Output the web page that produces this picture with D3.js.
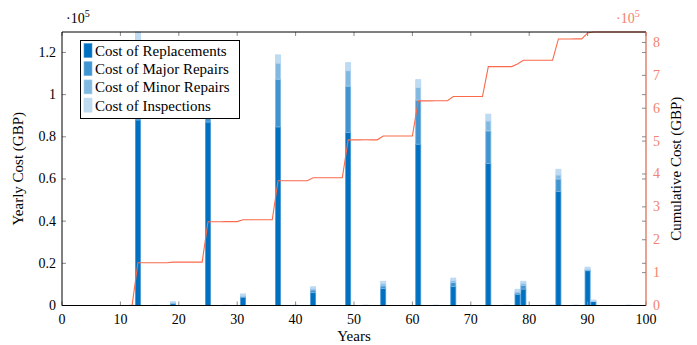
<!DOCTYPE html>
<html>
<head>
<meta charset="utf-8">
<script src="https://cdn.jsdelivr.net/npm/d3@7"></script>
<style>
  body { margin: 0; background: #fff; }
  text { font-family: "Liberation Serif", "Times New Roman", serif; }
</style>
</head>
<body>
<div id="chart"></div>
<script>
// years that carry a cost (all other years are zero)
const years         = [12, 13, 16, 19, 25, 28, 31, 37, 40, 43, 49, 52, 55, 61, 64, 67, 73, 76, 78, 79, 84, 85, 88, 90, 91, 97];
const replacements  = [0, 88000, 0, 800, 87000, 0, 3900, 84700, 0, 6100, 82050, 0, 8000, 76500, 0, 9000, 67300, 0, 5300, 7800, 0, 54000, 0, 16500, 1900, 0];
const majorRepairs  = [0, 29000, 0, 400, 24000, 0, 400, 22650, 0, 1300, 22000, 0, 1300, 20900, 0, 2000, 15500, 0, 700, 1800, 0, 6000, 0, 400, 0, 0];
const minorRepairs  = [0, 8500, 0, 300, 8000, 0, 400, 7600, 0, 700, 7300, 0, 1000, 6000, 0, 800, 4750, 0, 600, 1000, 0, 1900, 0, 400, 0, 0];
const inspections   = [200, 4200, 200, 300, 4000, 200, 800, 3900, 200, 800, 3800, 200, 1200, 3700, 200, 1200, 3200, 200, 1100, 900, 200, 2700, 200, 900, 700, 200];

const seriesNames  = ["Cost of Replacements", "Cost of Major Repairs", "Cost of Minor Repairs", "Cost of Inspections"];
const seriesColors = ["#0070c0", "#4094d0", "#80b8e0", "#bfdbf0"];
const seriesEdges  = ["#4a98d4", "#7ab4e0", "#a9d0ee", "#b8d6f2"];

const xTicks     = [0, 10, 20, 30, 40, 50, 60, 70, 80, 90, 100];
const yTicks     = [0, 20000, 40000, 60000, 80000, 100000, 120000];
const yCumTicks  = [0, 100000, 200000, 300000, 400000, 500000, 600000, 700000, 800000];

const W = 697, H = 345;
const margin = { top: 32, left: 62, right: 51, bottom: 39.5 };
const width = W - margin.left - margin.right,
      height = H - margin.top - margin.bottom;

const lineColor = "#fa6a4c";
const rightColor = "#f4826c";

// table for the stack
const keys = ["repl", "major", "minor", "insp"];
const rows = years.map((y, i) => ({
  year: y, repl: replacements[i], major: majorRepairs[i], minor: minorRepairs[i], insp: inspections[i]
}));
rows.forEach(r => r.total = r.repl + r.major + r.minor + r.insp);

// running total per year 0..100
const totalsByYear = new Map(rows.map(r => [r.year, r.total]));
const allYears = d3.range(0, 101);
const cumValues = d3.cumsum(allYears, y => totalsByYear.get(y) || 0);
const cumData = allYears.map((y, i) => ({ year: y, value: cumValues[i] }));

const svg = d3.select("#chart").append("svg")
  .attr("width", W).attr("height", H);

const g = svg.append("g").attr("transform", `translate(${margin.left},${margin.top})`);

const xScale = d3.scaleLinear().domain([0, 100]).range([0, width]);
const yScale = d3.scaleLinear().domain([0, d3.max(rows, d => d.total)]).range([height, 0]);
const yCum = d3.scaleLinear().domain([0, d3.max(cumValues)]).range([height, 0]);

// bars
const stacked = d3.stack().keys(keys)(rows);
const bw = xScale(1) - xScale(0);

g.append("g").selectAll("g")
  .data(stacked)
  .join("g")
  .attr("fill", (d, i) => seriesColors[i])
  .attr("stroke", (d, i) => seriesEdges[i])
  .attr("stroke-width", 0.8)
  .selectAll("rect")
  .data(d => d)
  .join("rect")
  .attr("x", d => xScale(d.data.year) - bw / 2 + 0.4)
  .attr("width", bw - 0.8)
  .attr("y", d => yScale(d[1]))
  .attr("height", d => Math.max(0, yScale(d[0]) - yScale(d[1])));

// cumulative line
g.append("path")
  .datum(cumData)
  .attr("fill", "none")
  .attr("stroke", lineColor)
  .attr("stroke-width", 1.1)
  .attr("d", d3.line().x(d => xScale(d.year)).y(d => yCum(d.value)));

// ticks (pointing inward)
const tickColor = "#8a8a8a", tl = 4;
const ticks = g.append("g").attr("stroke", tickColor).attr("stroke-width", 1);
xTicks.forEach(t => {
  ticks.append("line").attr("x1", xScale(t)).attr("x2", xScale(t)).attr("y1", height).attr("y2", height - tl);
  ticks.append("line").attr("x1", xScale(t)).attr("x2", xScale(t)).attr("y1", 0).attr("y2", tl);
});
yTicks.forEach(t => {
  ticks.append("line").attr("x1", 0).attr("x2", tl).attr("y1", yScale(t)).attr("y2", yScale(t));
  ticks.append("line").attr("x1", width).attr("x2", width - tl).attr("y1", yScale(t)).attr("y2", yScale(t));
});
yCumTicks.forEach(t => {
  ticks.append("line").attr("x1", width).attr("x2", width - tl).attr("y1", yCum(t)).attr("y2", yCum(t));
});

// frame
g.append("path").attr("fill", "none").attr("stroke", "#000").attr("stroke-width", 1)
  .attr("d", `M${width},0H0V${height}H${width}`);
g.append("line").attr("x1", width).attr("x2", width).attr("y1", 0).attr("y2", height)
  .attr("stroke", "#d9654a").attr("stroke-width", 1.2);

// tick labels
g.append("g").selectAll("text").data(xTicks).join("text")
  .attr("x", d => xScale(d)).attr("y", height + 18)
  .attr("text-anchor", "middle").style("font-size", "14px")
  .text(d => d);

g.append("g").selectAll("text").data(yTicks).join("text")
  .attr("x", -6).attr("y", d => yScale(d) + 4.5)
  .attr("text-anchor", "end").style("font-size", "14px")
  .text(d => d3.format("~g")(d / 1e5));

g.append("g").selectAll("text").data(yCumTicks).join("text")
  .attr("x", width + 7).attr("y", d => yCum(d) + 4.5)
  .attr("fill", rightColor).style("font-size", "14px")
  .text(d => d / 1e5);

// exponent labels
const expo = (x, color) => {
  const t = svg.append("text").attr("x", x).attr("y", 23).attr("fill", color).style("font-size", "14px");
  t.append("tspan").text("\u00b710");
  t.append("tspan").attr("dy", -6).style("font-size", "10px").text("5");
};
expo(66, "#000");
expo(616, rightColor);

// axis titles
svg.append("text")
  .attr("x", margin.left + width / 2).attr("y", 341)
  .attr("text-anchor", "middle").style("font-size", "15px")
  .text("Years");

svg.append("text")
  .attr("transform", `translate(23,${margin.top + height / 2}) rotate(-90)`)
  .attr("text-anchor", "middle").style("font-size", "15px")
  .text("Yearly Cost (GBP)");

svg.append("text")
  .attr("transform", `translate(681,${margin.top + height / 2}) rotate(-90)`)
  .attr("text-anchor", "middle").style("font-size", "15px")
  .text("Cumulative Cost (GBP)");

// legend
const legend = svg.append("g").attr("transform", "translate(80.5,40.5)");
legend.append("rect").attr("width", 159).attr("height", 78)
  .attr("fill", "#fff").attr("stroke", "#000").attr("stroke-width", 1);
seriesNames.forEach((name, i) => {
  const row = legend.append("g").attr("transform", `translate(0,${3 + i * 18.2})`);
  row.append("rect").attr("x", 3.5).attr("y", 0).attr("width", 8).attr("height", 14)
    .attr("fill", seriesColors[i]).attr("stroke", seriesEdges[i]).attr("stroke-width", 0.6);
  row.append("text").attr("x", 14.5).attr("y", 12.5).style("font-size", "15px").text(name);
});
</script>
</body>
</html>
